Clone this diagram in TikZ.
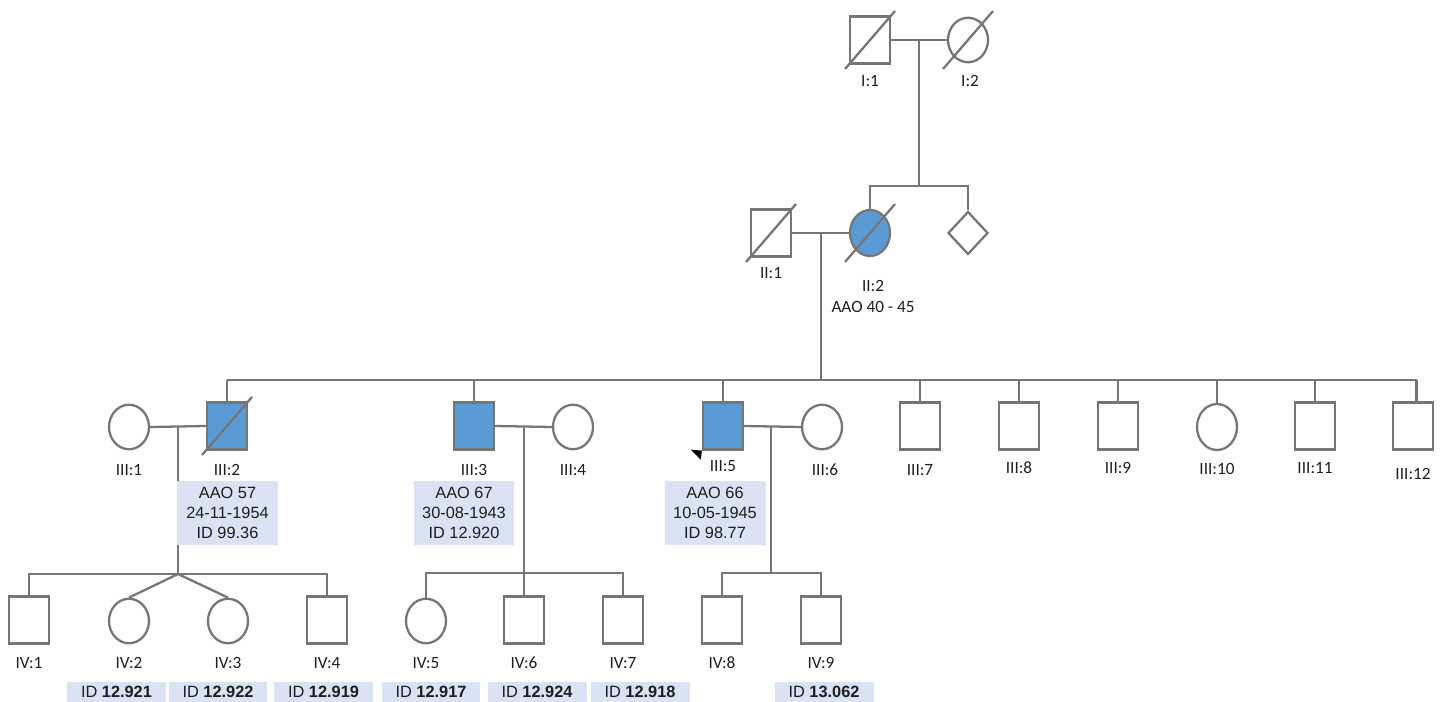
\documentclass[tikz,border=0pt]{standalone}
\usepackage{fontspec}
\setmainfont{Carlito}
\newfontfamily\arialfont{Liberation Sans}
\usepackage{xcolor}
\usetikzlibrary{shapes.geometric, positioning}
\definecolor{pedline}{RGB}{118,118,118}
\definecolor{affected}{RGB}{91,155,213}
\definecolor{infobg}{RGB}{218,227,243}
\definecolor{txt}{RGB}{30,30,30}

\begin{document}
\begin{tikzpicture}[x=0.02cm, y=-0.02cm,
      male/.style={rectangle, draw=pedline, line width=1.3pt, fill=white,
                   minimum width=0.8cm, minimum height=0.94cm, inner sep=0pt},
      female/.style={ellipse, draw=pedline, line width=1.3pt, fill=white,
                     minimum width=0.8cm, minimum height=0.89cm, inner sep=0pt},
      unknown/.style={diamond, draw=pedline, line width=1.3pt, fill=white,
                      minimum width=0.8cm, minimum height=0.86cm, inner sep=0pt},
      aff/.style={fill=affected},
      ln/.style={draw=pedline, line width=1.3pt},
      lbl/.style={font=\fontsize{9.8}{11}\selectfont, text=txt, inner sep=0pt},
      info/.style={fill=infobg, font=\arialfont\fontsize{9.3}{11.3}\selectfont, text=txt,
                   align=center, minimum width=2.02cm, minimum height=1.28cm, inner sep=0pt},
      idbox/.style={fill=infobg, font=\arialfont\fontsize{9.3}{11}\selectfont, text=txt,
                    minimum width=1.98cm, minimum height=0.4cm, inner sep=0pt}
    ]
      \useasboundingbox (0,0) rectangle (1449,702);

      % generation I and II
      \node[male] (I1) at (870,40) {};
      \node[female] (I2) at (968,40) {};
      \node[male] (II1) at (771,233) {};
      \node[female, aff, minimum height=0.92cm] (II2) at (870,233) {};
      \node[unknown] (II3) at (968,233) {};
      \coordinate (mI) at (919,40);
      \coordinate (sII) at (919,186);
      \coordinate (mII) at (821,233);
      \coordinate (sIII) at (821,380);

      % generation III
      \node[female] (III1) at (129,427) {};
      \node[male, aff] (III2) at (227,426) {};
      \node[male, aff] (III3) at (474,426) {};
      \node[female] (III4) at (573,427) {};
      \node[male, aff] (III5) at (723,426) {};
      \node[female] (III6) at (822,427) {};
      \node[male] (III7) at (920,426) {};
      \node[male] (III8) at (1019,426) {};
      \node[male] (III9) at (1118,426) {};
      \node[female, minimum height=0.92cm] (III10) at (1217,427) {};
      \node[male] (III11) at (1315,426) {};
      \node[male] (III12) at (1413,426) {};
      \coordinate (mIIIa) at (178,427);
      \coordinate (sIVa) at (178,574);
      \coordinate (mIIIb) at (524,427);
      \coordinate (sIVb) at (524,573);
      \coordinate (mIIIc) at (771,427);
      \coordinate (sIVc) at (771,573);

      % generation IV
      \node[male] (IV1) at (29,620) {};
      \node[female] (IV2) at (129,621) {};
      \node[female] (IV3) at (228,621) {};
      \node[male] (IV4) at (327,620) {};
      \node[female] (IV5) at (426,621) {};
      \node[male] (IV6) at (524,620) {};
      \node[male] (IV7) at (623,620) {};
      \node[male] (IV8) at (722,620) {};
      \node[male] (IV9) at (821,620) {};

      % lines of descent
      \draw[ln] (I1.east) -- (I2.west);
      \draw[ln] (mI) -- (sII);
      \draw[ln] (II2.north) |- (sII) -| (II3.north);
      \draw[ln] (II1.east) -- (II2.west);
      \draw[ln] (mII) -- (sIII);
      \draw[ln] (III2.north |- sIII) -- ([xshift=2]III12.north |- sIII);
      \foreach \c in {III2,III3,III5,III7,III8,III9,III10,III11}
        \draw[ln] (\c.north |- sIII) -- (\c.north);
      \draw[ln] ([xshift=2]III12.north |- sIII) -- ([xshift=2]III12.north);
      \draw[ln] (III1.east) -- (III2.west);
      \draw[ln] (III3.east) -- (III4.west);
      \draw[ln] (III5.east) -- (III6.west);
      \draw[ln] (mIIIa) -- (sIVa);
      \draw[ln] (mIIIb) -- (IV6.north);
      \draw[ln] (mIIIc) -- (sIVc);
      \draw[ln] (IV1.north) |- (IV4.north |- sIVa) -- (IV4.north);
      \draw[ln] (sIVa) -- (IV2.north);
      \draw[ln] (sIVa) -- (IV3.north);
      \draw[ln] (IV5.north) |- (IV7.north |- sIVb) -- (IV7.north);
      \draw[ln] (IV8.north) |- (IV9.north |- sIVc) -- (IV9.north);

      % deceased
      \foreach \d in {I1,I2,II1,II2,III2}
        \draw[ln] ([shift={(-25,29)}]\d.center) -- ([shift={(25,-29)}]\d.center);

      % proband
      \fill[black] ([shift={(-11,-1)}]III5.south west) -- (III5.south west)
        -- ([shift={(-1,9)}]III5.south west) -- cycle;

      % labels
      \node[lbl] (tI1) at (870,81) {I:1};
      \node[lbl] (tI2) at (970,81) {I:2};
      \node[lbl] (tII1) at (771,273) {II:1};
      \node[lbl] (tII2) at (873,286) {II:2};
      \node[lbl] (aII2) at (873,307) {AAO 40 - 45};
      \node[lbl] (tIII1) at (129,470) {III:1};
      \node[lbl] (tIII2) at (227,470) {III:2};
      \node[lbl] (tIII3) at (474,470) {III:3};
      \node[lbl] (tIII4) at (573,470) {III:4};
      \node[lbl] (tIII5) at (723,466) {III:5};
      \node[lbl] (tIII6) at (825,470) {III:6};
      \node[lbl] (tIII7) at (920,470) {III:7};
      \node[lbl] (tIII8) at (1019,468) {III:8};
      \node[lbl] (tIII9) at (1118,468) {III:9};
      \node[lbl] (tIII10) at (1217,469) {III:10};
      \node[lbl] (tIII11) at (1315,468) {III:11};
      \node[lbl] (tIII12) at (1413,474) {III:12};
      \foreach \i in {1,...,9}
        \node[lbl] (tIV\i) at ([shift={(0,43)}]IV\i.center |- IV1.center) {IV:\i};

      % clinical data
      \node[info] (dIII2) at (227.5,513) {AAO 57\\24-11-1954\\ID 99.36};
      \node[info] (dIII3) at (464,513) {AAO 67\\30-08-1943\\ID 12.920};
      \node[info] (dIII5) at (715,513) {AAO 66\\10-05-1945\\ID 98.77};
      \node[idbox] (dIV2) at (116.5,692) {ID \textbf{12.921}};
      \node[idbox] (dIV3) at (218,692) {ID \textbf{12.922}};
      \node[idbox] (dIV4) at (323.5,692) {ID \textbf{12.919}};
      \node[idbox] (dIV5) at (431,692) {ID \textbf{12.917}};
      \node[idbox] (dIV6) at (537,692) {ID \textbf{12.924}};
      \node[idbox] (dIV7) at (640,692) {ID \textbf{12.918}};
      \node[idbox] (dIV9) at (824,692) {ID \textbf{13.062}};
    \end{tikzpicture}
\end{document}
